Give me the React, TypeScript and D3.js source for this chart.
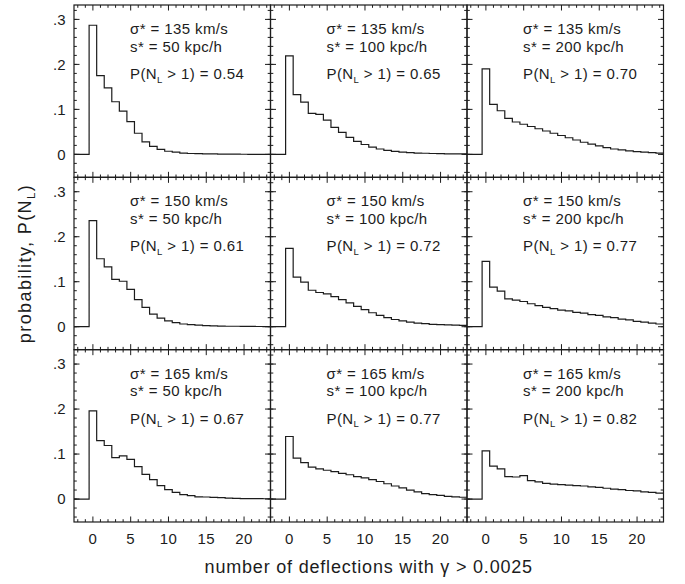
import React from "react";
import * as d3 from "d3";

// ---- data (probability per number of deflections, bins N = 0..23) ----
const binCenters = d3.range(0, 24);

const p135_50 = [0.287, 0.175, 0.148, 0.117, 0.096, 0.073, 0.047, 0.028, 0.018, 0.011, 0.007, 0.005, 0.003, 0.002, 0.0015, 0.001, 0.001, 0.0007, 0.0005, 0.0004, 0.0003, 0.0002, 0.0002, 0.0001];
const p135_100 = [0.219, 0.133, 0.116, 0.091, 0.089, 0.076, 0.060, 0.049, 0.038, 0.029, 0.022, 0.016, 0.012, 0.009, 0.0065, 0.005, 0.004, 0.003, 0.0025, 0.002, 0.0015, 0.0012, 0.001, 0.001];
const p135_200 = [0.190, 0.111, 0.097, 0.080, 0.072, 0.067, 0.062, 0.057, 0.052, 0.047, 0.042, 0.037, 0.032, 0.027, 0.023, 0.019, 0.015, 0.012, 0.010, 0.008, 0.006, 0.005, 0.004, 0.003];
const p150_50 = [0.236, 0.151, 0.133, 0.105, 0.101, 0.083, 0.060, 0.043, 0.028, 0.019, 0.013, 0.009, 0.006, 0.0045, 0.0035, 0.0025, 0.002, 0.0015, 0.001, 0.001, 0.0008, 0.0006, 0.0005, 0.0004];
const p150_100 = [0.174, 0.110, 0.099, 0.081, 0.076, 0.073, 0.067, 0.060, 0.053, 0.045, 0.038, 0.031, 0.025, 0.020, 0.016, 0.013, 0.010, 0.008, 0.0067, 0.005, 0.0045, 0.004, 0.0035, 0.003];
const p150_200 = [0.145, 0.088, 0.079, 0.062, 0.059, 0.056, 0.051, 0.047, 0.043, 0.040, 0.037, 0.035, 0.032, 0.030, 0.027, 0.025, 0.022, 0.020, 0.017, 0.015, 0.012, 0.010, 0.008, 0.006];
const p165_50 = [0.196, 0.130, 0.119, 0.092, 0.096, 0.088, 0.072, 0.055, 0.043, 0.030, 0.021, 0.015, 0.010, 0.0074, 0.005, 0.0045, 0.0035, 0.003, 0.002, 0.0015, 0.001, 0.001, 0.0008, 0.0006];
const p165_100 = [0.139, 0.091, 0.081, 0.071, 0.067, 0.064, 0.061, 0.057, 0.054, 0.050, 0.047, 0.043, 0.039, 0.034, 0.029, 0.025, 0.020, 0.016, 0.012, 0.010, 0.008, 0.006, 0.005, 0.004];
const p165_200 = [0.107, 0.073, 0.067, 0.050, 0.049, 0.052, 0.041, 0.038, 0.035, 0.033, 0.032, 0.031, 0.030, 0.029, 0.027, 0.026, 0.024, 0.022, 0.021, 0.019, 0.018, 0.016, 0.015, 0.013];

const sigmaStar = ["135", "150", "165"]; // rows
const sStar = ["50", "100", "200"]; // columns
const pMulti = [
  ["0.54", "0.65", "0.70"],
  ["0.61", "0.72", "0.77"],
  ["0.67", "0.77", "0.82"],
];
const series = [
  [p135_50, p135_100, p135_200],
  [p150_50, p150_100, p150_200],
  [p165_50, p165_100, p165_200],
];

const xTickValues = [0, 5, 10, 15, 20];
const xMinorTicks = d3.range(-2, 24);
const yTickValues = [0, 0.1, 0.2, 0.3];
const yTickLabels = ["0", ".1", ".2", ".3"];
const yMinorTicks = d3.range(-0.04, 0.33, 0.02);

// ---- layout ----
const W = 685;
const H = 584;
const LEFT = 74;
const TOP = 5;
const PW = 196.5;
const PH = 172.33;
const X_DOMAIN: [number, number] = [-2.5, 23.5];
const Y_DOMAIN: [number, number] = [-0.051, 0.332];

const FONT = "'Liberation Sans', Arial, Helvetica, sans-serif";
const INK = "#1c1c1c";

function Panel({ row, col }: { row: number; col: number }) {
  const x0 = LEFT + col * PW;
  const y0 = TOP + row * PH;
  const x = d3.scaleLinear().domain(X_DOMAIN).range([x0, x0 + PW]);
  const y = d3.scaleLinear().domain(Y_DOMAIN).range([y0 + PH, y0]);
  const vals = series[row][col];

  const pts: [number, number][] = [[X_DOMAIN[0], 0]];
  binCenters.forEach((n, i) => pts.push([n - 0.5, vals[i]]));
  pts.push([X_DOMAIN[1], vals[vals.length - 1]]);
  const line = d3
    .line<[number, number]>()
    .x((d) => x(d[0]))
    .y((d) => y(d[1]))
    .curve(d3.curveStepAfter);

  const majL = 5.5;
  const minL = 2.8;
  const ticks: JSX.Element[] = [];
  xMinorTicks.forEach((t) => {
    const len = xTickValues.includes(t) ? majL : minL;
    const xx = x(t);
    ticks.push(<line key={`xb${t}`} x1={xx} x2={xx} y1={y0 + PH} y2={y0 + PH - len} />);
    ticks.push(<line key={`xt${t}`} x1={xx} x2={xx} y1={y0} y2={y0 + len} />);
  });
  yMinorTicks.forEach((t, i) => {
    const yy = y(t);
    ticks.push(<line key={`yl${i}`} x1={x0} x2={x0 + minL} y1={yy} y2={yy} />);
    ticks.push(<line key={`yr${i}`} x1={x0 + PW} x2={x0 + PW - minL} y1={yy} y2={yy} />);
  });
  yTickValues.forEach((t, i) => {
    const yy = y(t);
    ticks.push(<line key={`YL${i}`} x1={x0} x2={x0 + majL} y1={yy} y2={yy} />);
    ticks.push(<line key={`YR${i}`} x1={x0 + PW} x2={x0 + PW - majL} y1={yy} y2={yy} />);
  });

  const tx = x0 + 56;
  return (
    <g>
      <g stroke={INK} strokeWidth={1}>{ticks}</g>
      <path d={line(pts) || ""} fill="none" stroke={INK} strokeWidth={1.2} />
      <rect x={x0} y={y0} width={PW} height={PH} fill="none" stroke={INK} strokeWidth={1.2} />
      <g fontFamily={FONT} fontSize={15} fill={INK} letterSpacing={0.4}>
        <text x={tx} y={y0 + 29}>σ* = {sigmaStar[row]} km/s</text>
        <text x={tx} y={y0 + 46.5}>s* = {sStar[col]} kpc/h</text>
        <text x={tx} y={y0 + 74}>
          P(N<tspan fontSize={9.5} dy={3.5}>L</tspan>
          <tspan dy={-3.5}> &gt; 1) = {pMulti[row][col]}</tspan>
        </text>
      </g>
      {col === 0 &&
        yTickValues.map((t, i) => (
          <text key={`yt${i}`} x={x0 - 8.5} y={y(t)} dy="0.36em" textAnchor="end" fontFamily={FONT} fontSize={15} fill={INK}>
            {yTickLabels[i]}
          </text>
        ))}
      {row === 2 &&
        xTickValues.map((t) => (
          <text key={`xt${t}`} x={x(t)} y={y0 + PH + 22} textAnchor="middle" fontFamily={FONT} fontSize={15} fill={INK} letterSpacing={0.5}>
            {t}
          </text>
        ))}
    </g>
  );
}

export default function App() {
  const panels: JSX.Element[] = [];
  for (let r = 0; r < 3; r++) for (let c = 0; c < 3; c++) panels.push(<Panel key={`${r}-${c}`} row={r} col={c} />);
  return (
    <svg width={W} height={H} style={{ position: "absolute", left: 0, top: 0, background: "#fff" }}>
      <rect x={0} y={0} width={W} height={H} fill="#fff" />
      {panels}
      <text x={LEFT + 1.5 * PW} y={573} textAnchor="middle" fontFamily={FONT} fontSize={18} fill={INK} letterSpacing={0.8}>
        number of deflections with γ &gt; 0.0025
      </text>
      <text transform={`translate(31, ${TOP + 1.5 * PH}) rotate(-90)`} textAnchor="middle" fontFamily={FONT} fontSize={18} fill={INK} letterSpacing={1.4}>
        probability, P(N<tspan fontSize={11.5} dy={4}>L</tspan>
        <tspan dy={-4}>)</tspan>
      </text>
    </svg>
  );
}
